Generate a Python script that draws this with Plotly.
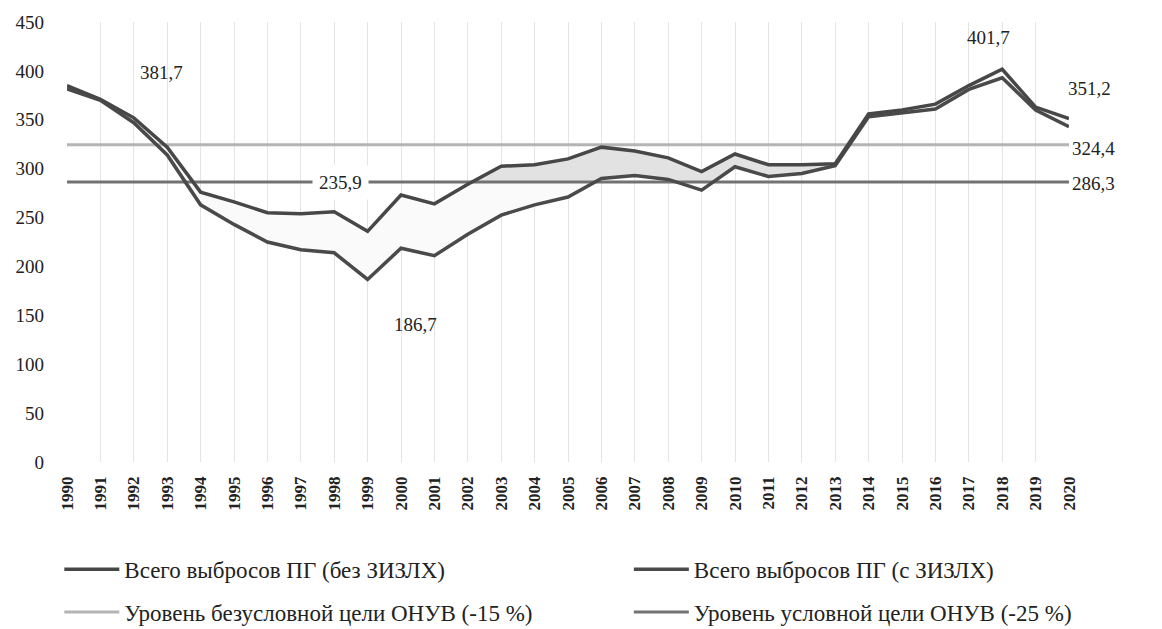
import numpy as np
import plotly.graph_objects as go

years = list(range(1990, 2021))
total_without_lulucf = [385, 371, 352, 322, 276, 266, 255, 254, 256, 235.9, 273, 264, 284, 302.5, 304,
                        310, 322, 318, 311, 297, 315, 304, 304, 305, 356, 360, 366, 385, 401.7, 363, 351.2]
total_with_lulucf = [381.7, 370, 347, 314, 263, 243, 225, 217, 214, 186.7, 218.6, 211, 233, 252.5, 263,
                     271, 290, 293, 289, 278, 302, 292, 295, 303, 353, 357, 361, 381, 393, 360, 343]
uncond_target = 324.4
cond_target = 286.3

names = ["Всего выбросов ПГ (без ЗИЗЛХ)", "Всего выбросов ПГ (с ЗИЗЛХ)",
         "Уровень безусловной цели ОНУВ (-15 %)", "Уровень условной цели ОНУВ (-25 %)"]

FONT = "Liberation Serif"

fig = go.Figure()

# faint fill between the two emission series
fig.add_trace(go.Scatter(x=years + years[::-1], y=total_without_lulucf + total_with_lulucf[::-1],
                         fill="toself", fillcolor="#fafafa", line=dict(width=0),
                         mode="lines", showlegend=False, hoverinfo="skip"))

# shaded band between the upper series and the conditional target / lower series
xs = np.linspace(1990, 2013, 2301)
up = np.interp(xs, years, total_without_lulucf)
lo = np.maximum(np.interp(xs, years, total_with_lulucf), cond_target)
mask = (up >= cond_target) & (xs >= 2001.5)
bx = xs[mask]
fig.add_trace(go.Scatter(x=list(bx) + list(bx[::-1]), y=list(up[mask]) + list(lo[mask][::-1]),
                         fill="toself", fillcolor="#e2e2e2", line=dict(width=0),
                         mode="lines", showlegend=False, hoverinfo="skip"))

fig.add_trace(go.Scatter(x=years, y=[uncond_target] * len(years), mode="lines", name=names[2],
                         line=dict(color="#b4b4b4", width=3), legend="legend3"))
fig.add_trace(go.Scatter(x=years, y=[cond_target] * len(years), mode="lines", name=names[3],
                         line=dict(color="#727272", width=3), legend="legend4"))
fig.add_trace(go.Scatter(x=years, y=total_with_lulucf, mode="lines", name=names[1],
                         line=dict(color="#4a4a4a", width=3.5), legend="legend2"))
fig.add_trace(go.Scatter(x=years, y=total_without_lulucf, mode="lines", name=names[0],
                         line=dict(color="#474747", width=3.5), legend="legend"))

PL, PR, PT, PB = 66.7, 92.5, 21.5, 166.5
PW = 1162 - PL - PR
PH = 629 - PT - PB


def lx(px):
    return (px - PL) / PW


def ly(py):
    return (629 - PB - py) / PH


ann_font = dict(family=FONT, size=19, color="#222")
annotations = [
    dict(xref="x", x=1992.82, y=398.5, text="381,7"),
    dict(xref="x", x=2017.6, y=434, text="401,7"),
    dict(xref="paper", x=lx(1114), y=382, text="351,2"),
    dict(xref="paper", x=lx(1118), y=321, text="324,4"),
    dict(xref="paper", x=lx(1118), y=285, text="286,3"),
    dict(xref="x", x=2000.43, y=140.3, text="186,7"),
    dict(xref="x", x=1998.2, y=cond_target, text="235,9", bgcolor="white", borderpad=6),
]
for a in annotations:
    fig.add_annotation(yref="y", showarrow=False, font=ann_font, **a)

leg_common = dict(orientation="h", font=dict(family=FONT, size=23, color="#222"),
                  bgcolor="rgba(0,0,0,0)", itemwidth=55, yanchor="middle", xanchor="left")

fig.update_layout(
    width=1162, height=629,
    margin=dict(l=PL, r=PR, t=PT, b=PB, autoexpand=False),
    plot_bgcolor="white", paper_bgcolor="white",
    xaxis=dict(range=[1990, 2020], dtick=1, tick0=1990, showgrid=True, gridcolor="#e4e4e4",
               gridwidth=1, zeroline=False, showline=False, tickangle=-90, ticks="",
               tickfont=dict(family=FONT, size=17, color="#222", weight="bold"), ticklabelstandoff=10),
    yaxis=dict(range=[0, 450], dtick=50, showgrid=False, zeroline=False, showline=False,
               tickfont=dict(family=FONT, size=19, color="#222"), ticklabelstandoff=22),
    legend=dict(x=lx(59), y=ly(570), **leg_common),
    legend2=dict(x=lx(629), y=ly(570), **leg_common),
    legend3=dict(x=lx(59), y=ly(613), **leg_common),
    legend4=dict(x=lx(629), y=ly(613), **leg_common),
)

fig.write_html("out.html", config={"displayModeBar": False},
               post_script="document.body.style.margin='0px';")
